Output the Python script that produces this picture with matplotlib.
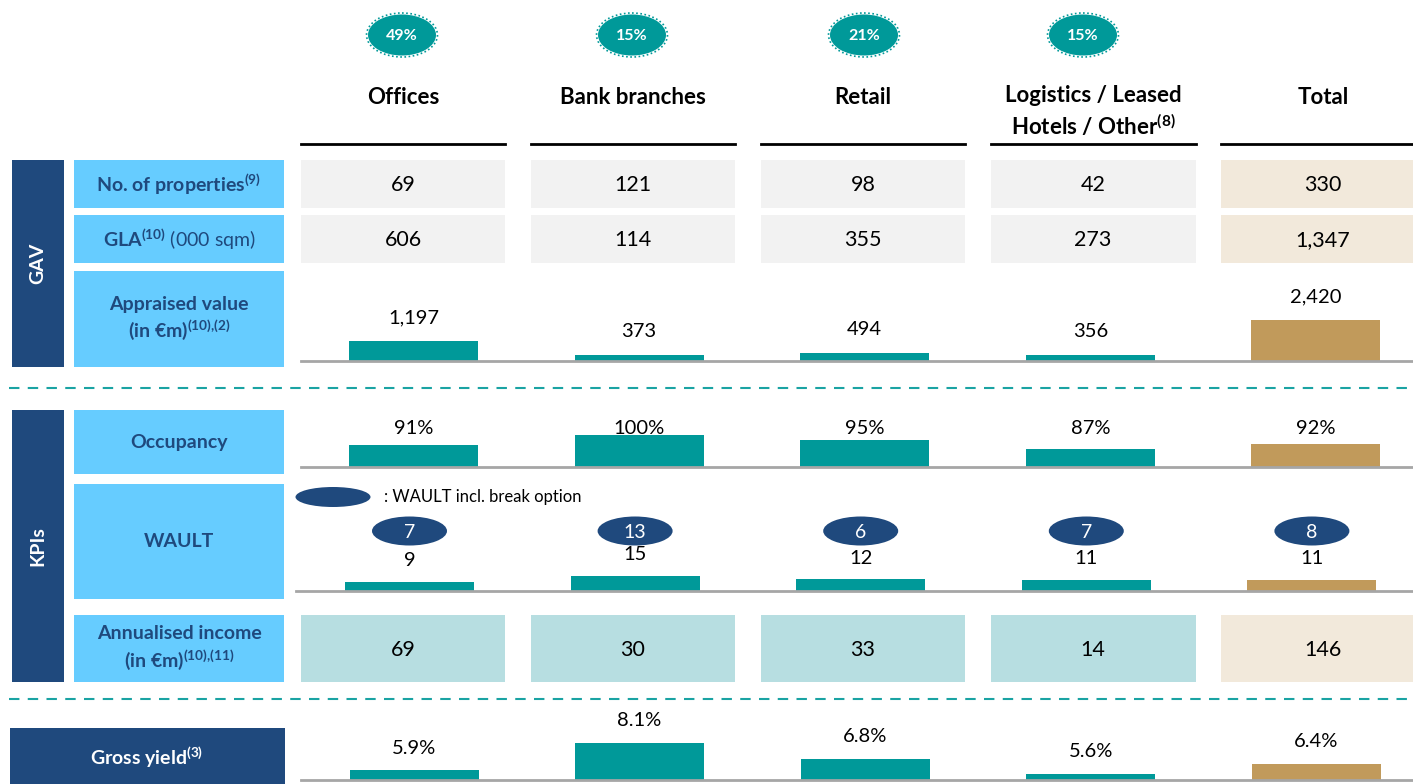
import matplotlib
matplotlib.use("Agg")
import matplotlib.pyplot as plt
from matplotlib.patches import Rectangle, Ellipse
import numpy as np

plt.rcParams['font.family'] = ['Lato', 'DejaVu Sans']
plt.rcParams['mathtext.fontset'] = 'custom'
plt.rcParams['mathtext.rm'] = 'Lato'
plt.rcParams['mathtext.bf'] = 'Lato:bold'

# data
categories = ['Offices', 'Bank branches', 'Retail',
              'Logistics / Leased\nHotels / Other$^{\\mathbf{(8)}}$', 'Total']
gav_share = [49, 15, 21, 15]
properties = [69, 121, 98, 42, 330]
gla = [606, 114, 355, 273, 1347]
appraised = [1197, 373, 494, 356, 2420]
occupancy = [91, 100, 95, 87, 92]
wault = [9, 15, 12, 11, 11]
wault_break = [7, 13, 6, 7, 8]
income = [69, 30, 33, 14, 146]
gross_yield = [5.9, 8.1, 6.8, 5.6, 6.4]

NAVY = '#1F497D'
LBLUE = '#66CCFF'
TEAL = '#009999'
GOLD = '#C19A5B'
GREY = '#F2F2F2'
BEIGE = '#F2E9DB'
ICELL = '#B7DEE1'
LINE = '#A6A6A6'
bar_colors = [TEAL] * 4 + [GOLD]

W, H = 1413, 784
fig = plt.figure(figsize=(W / 100, H / 100), dpi=100)
ax = fig.add_axes([0, 0, 1, 1])
ax.set_xlim(0, W)
ax.set_ylim(H, 0)
ax.axis('off')

col_x = [(301, 505), (531, 735), (761, 965), (991, 1196), (1221, 1425)]
col_c = [403, 633, 863, 1093, 1323]
badge_x = [402, 632, 864, 1083]

# header badges
for i, s in enumerate(gav_share):
    ax.add_patch(Ellipse((badge_x[i], 35), 71, 44, facecolor='none', edgecolor=TEAL,
                         lw=1.2, ls=(0, (1, 1.5))))
    ax.add_patch(Ellipse((badge_x[i], 35), 68, 41, facecolor=TEAL, edgecolor='none'))
    ax.text(badge_x[i], 36, f'{s}%', ha='center', va='center', color='white',
            fontsize=11.5, fontweight='bold')

# column headers
for i, c in enumerate(categories):
    if '\n' in c:
        ax.text(col_c[i], 112, c, ha='center', va='center', fontsize=16, fontweight='bold',
                linespacing=1.25)
    else:
        ax.text(col_c[i], 97, c, ha='center', va='center', fontsize=16, fontweight='bold')
    ax.plot([col_x[i][0], min(col_x[i][1], W)], [144, 144], color='black', lw=2)


def cell_row(vals, y0, y1, colors, fmt='{:,}'):
    for i, v in enumerate(vals):
        x0, x1 = col_x[i]
        ax.add_patch(Rectangle((x0, y0), x1 - x0, y1 - y0, facecolor=colors[i], edgecolor='none'))
        ax.text(col_c[i], (y0 + y1) / 2 + 1, fmt.format(v), ha='center', va='center', fontsize=15.5)


cell_row(properties, 160, 208, [GREY] * 4 + [BEIGE])
cell_row(gla, 215, 263, [GREY] * 4 + [BEIGE])
cell_row(income, 615, 682, [ICELL] * 4 + [BEIGE])

# left side boxes
ax.add_patch(Rectangle((12, 160), 52, 207, facecolor=NAVY, edgecolor='none'))
ax.text(38, 263, 'GAV', rotation=90, ha='center', va='center', color='white', fontsize=14,
        fontweight='bold')
ax.add_patch(Rectangle((12, 410), 52, 272, facecolor=NAVY, edgecolor='none'))
ax.text(38, 546, 'KPIs', rotation=90, ha='center', va='center', color='white', fontsize=14,
        fontweight='bold')

labels = [
    ('No. of properties$^{\\mathbf{(9)}}$', 160, 208, 'bold'),
    ('$\\mathbf{GLA}^{\\mathbf{(10)}}$ (000 sqm)', 215, 263, 'normal'),
    ('Appraised value\n(in €m)$^{\\mathbf{(10){,}(2)}}$', 271, 367, 'bold'),
    ('Occupancy', 410, 474, 'bold'),
    ('WAULT', 484, 599, 'bold'),
    ('Annualised income\n(in €m)$^{\\mathbf{(10){,}(11)}}$', 615, 682, 'bold'),
]
for txt, y0, y1, fw in labels:
    ax.add_patch(Rectangle((74, y0), 210, y1 - y0, facecolor=LBLUE, edgecolor='none'))
    ax.text(179, (y0 + y1) / 2, txt, ha='center', va='center', color=NAVY, fontsize=14,
            fontweight=fw, linespacing=1.25)

ax.add_patch(Rectangle((10, 728), 275, 60, facecolor=NAVY, edgecolor='none'))
ax.text(147, 757, 'Gross yield$^{\\mathbf{(3)}}$', ha='center', va='center', color='white',
        fontsize=14, fontweight='bold')

# dashed separators
for y in [388, 699]:
    ax.plot([9, W], [y, y], color='#1AA3A3', lw=1.5, ls=(0, (5, 4)))

SP = 225.6
BW = 129


def bar_row(vals, y_base, ppu, ymin, x_left, c0, fmt, label_off=None, label_y=None):
    h = 80
    b = fig.add_axes([x_left / W, 1 - y_base / H, (W - x_left) / W, h / H])
    b.patch.set_visible(False)
    b.set_xlim((x_left - c0) / SP, (W - c0) / SP)
    b.set_ylim(ymin, ymin + h / ppu)
    v = np.array(vals, dtype=float)
    b.bar(np.arange(len(v)), v - ymin, bottom=ymin, width=BW / SP, color=bar_colors)
    for s in ['top', 'left', 'right']:
        b.spines[s].set_visible(False)
    b.spines['bottom'].set_color(LINE)
    b.spines['bottom'].set_linewidth(2)
    b.set_xticks([])
    b.set_yticks([])
    for i, val in enumerate(vals):
        if label_y is None:
            b.annotate(fmt.format(val), (i, val), xytext=(0, label_off * 0.72),
                       textcoords='offset points', ha='center', va='center', fontsize=14.5,
                       annotation_clip=False)
        else:
            b.text(i, 1 - (label_y - (y_base - h)) / h, fmt.format(val), ha='center',
                   va='center', fontsize=14.5,
                   transform=b.get_xaxis_transform(), clip_on=False)
    return b


bar_row(appraised, 361, 41 / 2420, 0, 301, 413.5, '{:,}', label_off=23)
bar_row(occupancy, 467, 1.11, 71, 301, 413.5, '{}%', label_y=428)
bar_row(wault, 591, 1.0, 0, 296, 409.5, '{}', label_off=21)
bar_row(gross_yield, 780, 12.4, 5.1, 301, 414, '{}%', label_off=22)

# WAULT incl. break option ellipses
ax.add_patch(Ellipse((333, 497), 75, 20, facecolor=NAVY, edgecolor='none'))
ax.text(384, 497, ': WAULT incl. break option', ha='left', va='center', fontsize=12)
for i, v in enumerate(wault_break):
    cx = 409.5 + i * SP
    ax.add_patch(Ellipse((cx, 531), 75, 29, facecolor=NAVY, edgecolor='none'))
    ax.text(cx, 532, str(v), ha='center', va='center', color='white', fontsize=14)

fig.savefig('out.png', dpi=100)
